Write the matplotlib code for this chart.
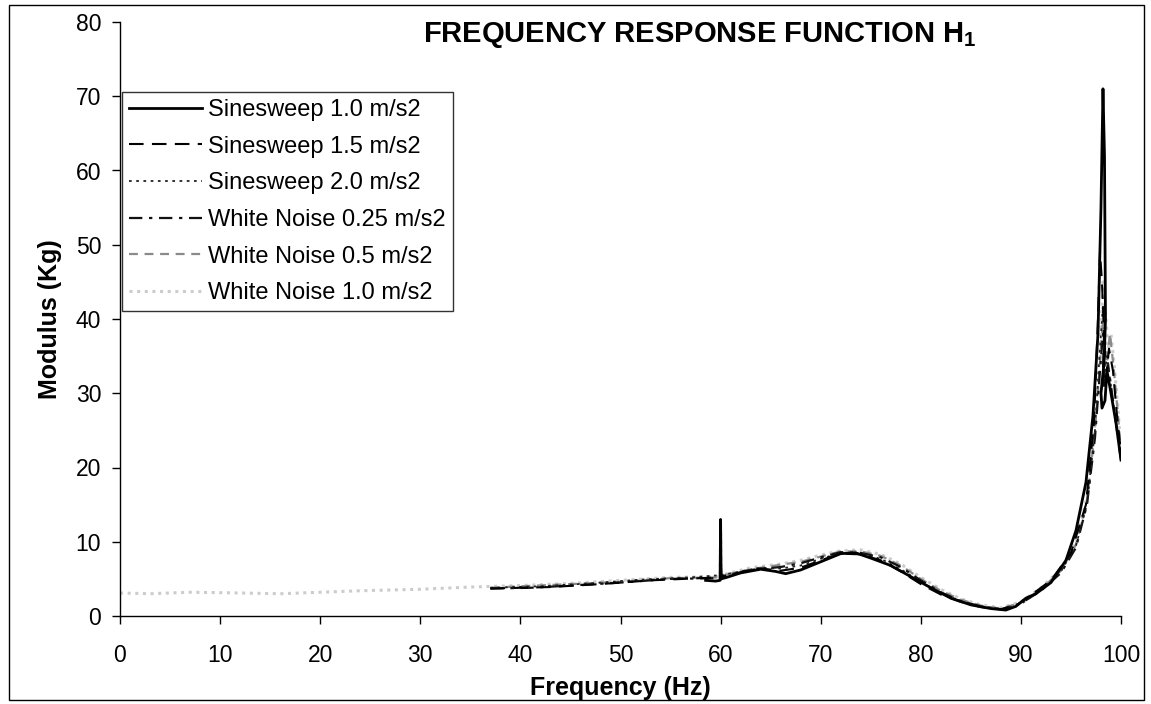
import matplotlib
matplotlib.use("Agg")
import matplotlib.pyplot as plt
from matplotlib.patches import Rectangle

plt.rcParams['font.family'] = ['Liberation Sans', 'DejaVu Sans']

# ---------------- data ----------------
ss10_f = [58.5, 59.5, 59.95, 60.0, 60.05, 60.6, 62, 64, 65.5, 66.5, 68, 70, 72, 73.5, 75, 77, 79,
          81, 83, 85, 87, 88.5, 89.5, 90.5, 91.5, 93, 94.5, 95.5, 96.5, 97.2, 97.7, 98.0, 98.2,
          98.35, 98.45, 98.3, 98.0, 98.1, 98.4, 98.6, 99.0, 99.5, 100]
ss10_v = [4.8, 4.7, 4.8, 13.0, 5.0, 5.2, 5.8, 6.3, 6.0, 5.7, 6.2, 7.3, 8.4, 8.5, 7.8, 6.8, 5.3,
          3.8, 2.4, 1.5, 1.0, 0.8, 1.3, 2.4, 3.0, 4.5, 7.5, 11.5, 18, 27, 38, 55, 71,
          62, 40, 34, 30, 28, 29, 33, 30, 26, 21]

ss15_f = [37, 40, 43, 48, 53, 58, 59.95, 60.0, 60.05, 62, 64, 66, 68, 70, 72, 74, 76, 78, 80,
          82, 84, 86, 88, 89.5, 91, 93, 95, 96.5, 97.3, 97.7, 97.9, 98.1, 98.3, 98.2, 98.5,
          98.8, 99.2, 99.6, 100]
ss15_v = [3.7, 3.8, 3.9, 4.3, 4.8, 5.1, 5.2, 12.0, 5.3, 5.9, 6.4, 6.1, 6.5, 7.5, 8.4, 8.3, 7.5,
          6.0, 4.3, 2.9, 1.9, 1.2, 0.9, 1.4, 2.8, 4.8, 8.5, 15, 26, 40, 49, 45, 38, 33, 32,
          36, 33, 27, 22]

ss20_f = [37, 42, 47, 52, 57, 60, 62, 64, 66, 68, 70, 72, 74, 76, 78, 80, 82, 84, 86, 88, 90,
          92, 94, 95.5, 96.6, 97.4, 97.9, 98.2, 98.4, 98.3, 98.6, 99.0, 99.5, 100]
ss20_v = [3.8, 4.0, 4.4, 4.9, 5.2, 5.5, 6.0, 6.5, 6.4, 6.8, 7.7, 8.5, 8.4, 7.7, 6.3, 4.6, 3.1,
          2.0, 1.3, 0.9, 1.6, 3.5, 6.0, 9.5, 15, 25, 36, 42, 38, 32, 35, 31, 26, 22]

wn025_f = [37, 41, 45, 50, 55, 59.95, 60.0, 60.05, 63, 66, 68, 70, 72, 74, 76, 78, 80, 82, 84,
           86, 88, 90, 92, 94, 95.5, 96.6, 97.4, 97.9, 98.2, 98.4, 98.3, 98.7, 99.1, 99.6, 100]
wn025_v = [3.7, 3.8, 4.1, 4.5, 5.0, 5.1, 12.5, 5.3, 6.2, 6.6, 7.1, 7.9, 8.6, 8.5, 7.9, 6.6, 4.8,
           3.2, 2.0, 1.3, 0.9, 1.7, 3.4, 5.8, 9.2, 15, 24, 33, 38, 36, 31, 34, 30, 25, 21]

wn05_f = [37, 40, 45, 50, 55, 59.95, 60.0, 60.05, 63, 66, 68, 70,
          72, 74, 76, 78, 80, 82, 84, 86, 88, 90, 92, 94, 95.5, 96.6, 97.4, 97.9, 98.2, 98.4,
          98.6, 98.9, 99.3, 99.7, 100]
wn05_v = [3.8, 4.0, 4.3, 4.6, 5.1, 5.2, 11.5, 5.4, 6.3,
          6.9, 7.3, 8.0, 8.7, 8.7, 8.1, 6.8, 5.0, 3.4, 2.2, 1.4, 1.0, 1.8, 3.6, 6.1, 9.6,
          15.5, 25, 34, 40, 37, 34, 38, 33, 27, 22]

wn10_f = [0, 3, 7, 12, 16, 20, 24, 30, 35, 40, 45, 50, 55, 59.95, 60.0, 60.05, 63, 66, 68, 70,
          72, 74, 76, 78, 80, 82, 84, 86, 88, 90, 92, 94, 95.5, 96.6, 97.4, 97.9, 98.2, 98.5,
          98.7, 99.0, 99.3, 99.7, 100]
wn10_v = [3.1, 3.0, 3.2, 3.1, 3.0, 3.2, 3.4, 3.6, 3.9, 4.1, 4.4, 4.8, 5.2, 5.3, 11.0, 5.5, 6.5,
          7.0, 7.5, 8.2, 8.8, 8.9, 8.3, 7.0, 5.2, 3.6, 2.3, 1.5, 1.1, 1.9, 3.8, 6.3, 9.9,
          16, 26, 36, 45, 40, 36, 38, 34, 28, 22]

labels = ["Sinesweep 1.0 m/s2", "Sinesweep 1.5 m/s2", "Sinesweep 2.0 m/s2",
          "White Noise 0.25 m/s2", "White Noise 0.5 m/s2", "White Noise 1.0 m/s2"]
x_ticks = [0, 10, 20, 30, 40, 50, 60, 70, 80, 90, 100]
y_ticks = [0, 10, 20, 30, 40, 50, 60, 70, 80]

# ---------------- figure ----------------
fig = plt.figure(figsize=(11.51, 7.04), dpi=100)
ax = fig.add_axes([120/1151, 1-616/704, (1121-120)/1151, (616-22)/704])

ax.plot(wn10_f, wn10_v, color='#cccccc', lw=2.2, ls=(0, (1, 1.5)), label=labels[5], zorder=2)
ax.plot(wn05_f, wn05_v, color='#8a8a8a', lw=1.6, ls=(0, (4, 3)), label=labels[4], zorder=3)
ax.plot(wn025_f, wn025_v, color='#111111', lw=1.6, ls=(0, (6, 3, 1.5, 3)), label=labels[3], zorder=4)
ax.plot(ss20_f, ss20_v, color='#222222', lw=1.3, ls=(0, (1.5, 2.5)), label=labels[2], zorder=5)
ax.plot(ss15_f, ss15_v, color='#000000', lw=1.5, ls=(0, (7, 4)), label=labels[1], zorder=6)
ax.plot(ss10_f, ss10_v, color='#000000', lw=2.0, ls='-', label=labels[0], zorder=7)

ax.set_xlim(0, 100)
ax.set_ylim(0, 80)
ax.set_xticks(x_ticks)
ax.set_yticks(y_ticks)
ax.tick_params(axis='both', direction='out', length=5.5, width=1, labelsize=16.5, colors='black')
ax.tick_params(axis='y', pad=8)
ax.tick_params(axis='x', pad=15)
for s in ['top', 'right']:
    ax.spines[s].set_visible(False)
for s in ['left', 'bottom']:
    ax.spines[s].set_linewidth(1.0)

ax.set_xlabel("Frequency (Hz)", fontsize=18, fontweight='bold', labelpad=6)
ax.set_ylabel("Modulus (Kg)", fontsize=18, fontweight='bold', labelpad=10)

fig.text(700/1151, 1-35/704, "FREQUENCY RESPONSE FUNCTION H$_\\mathregular{1}$",
         ha='center', va='center', fontsize=21, fontweight='bold')

h, l = ax.get_legend_handles_labels()
order = [5, 4, 3, 2, 1, 0]
leg = ax.legend([h[i] for i in order], [l[i] for i in order], loc='upper left',
                bbox_to_anchor=((122-120)/1001, (616-92)/594), fontsize=17,
                frameon=True, fancybox=False, edgecolor='black', handlelength=3.1,
                handletextpad=0.25, labelspacing=0.62, borderpad=0.3, borderaxespad=0)
leg.get_frame().set_linewidth(1.0)

fig.patches.append(Rectangle((9/1151, 1-700/704), (1144-9)/1151, (700-5)/704,
                             transform=fig.transFigure, fill=False, edgecolor='black', lw=1.0))

fig.savefig("out.png", dpi=100)
